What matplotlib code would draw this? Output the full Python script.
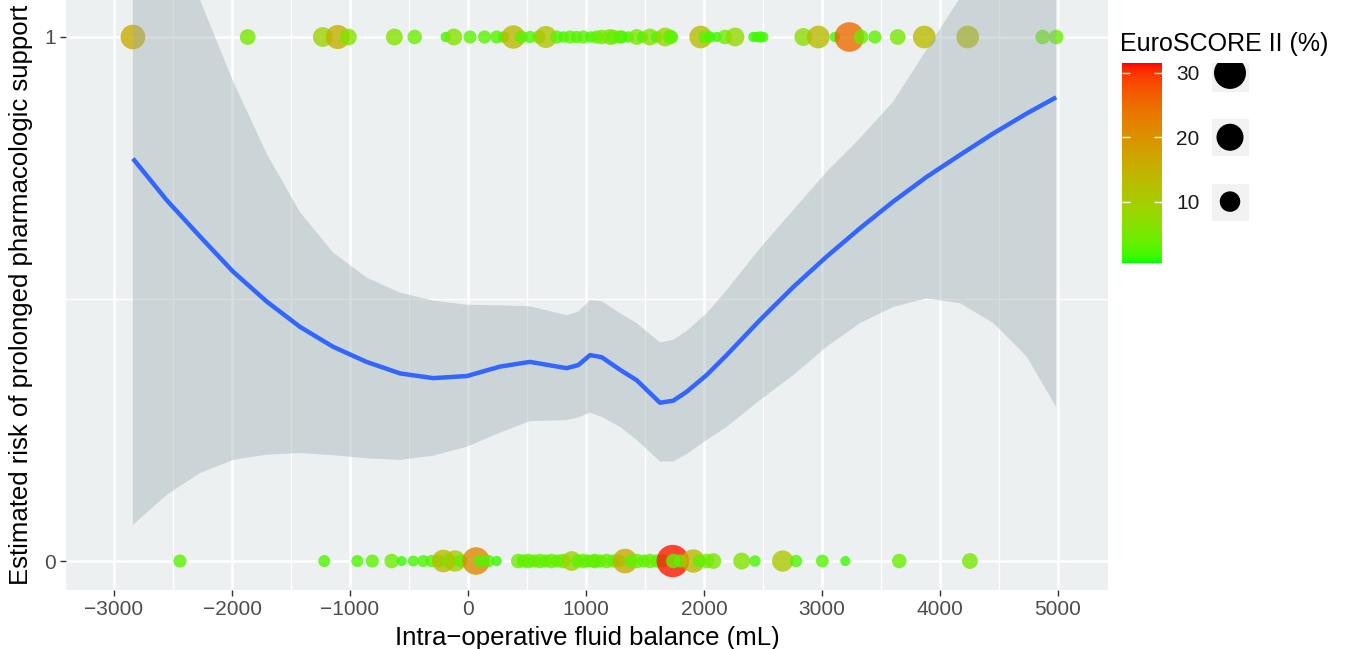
import numpy as np
import matplotlib
matplotlib.use("Agg")
import matplotlib.pyplot as plt
from matplotlib.colors import ListedColormap, Normalize
from matplotlib.cm import ScalarMappable

plt.rcParams['font.family'] = ['Liberation Sans', 'DejaVu Sans']

# smoothed risk curve and its confidence band
fit_x = [-2840, -2555, -2270, -1990, -1705, -1425, -1145, -860, -575, -295,
         -10, 271, 525, 836, 935, 1034, 1133, 1288, 1430, 1627,
         1740, 1853, 2023, 2192, 2475, 2757, 3040, 3322, 3604, 3887,
         4170, 4452, 4735, 4985]
fit_y = [0.768, 0.689, 0.619, 0.552, 0.495, 0.447, 0.409, 0.380, 0.358, 0.349,
         0.353, 0.371, 0.380, 0.368, 0.374, 0.393, 0.389, 0.365, 0.345, 0.302,
         0.306, 0.323, 0.355, 0.393, 0.460, 0.523, 0.581, 0.635, 0.686, 0.733,
         0.775, 0.816, 0.854, 0.885]
band_lo = [0.069, 0.126, 0.168, 0.193, 0.203, 0.206, 0.202, 0.196, 0.193, 0.201,
           0.218, 0.245, 0.267, 0.269, 0.274, 0.283, 0.275, 0.256, 0.231, 0.190,
           0.190, 0.204, 0.231, 0.256, 0.307, 0.355, 0.409, 0.454, 0.485, 0.501,
           0.492, 0.454, 0.390, 0.294]
band_hi = [1.55, 1.30, 1.07, 0.915, 0.777, 0.666, 0.589, 0.541, 0.512, 0.497,
           0.489, 0.488, 0.486, 0.469, 0.476, 0.498, 0.496, 0.473, 0.454, 0.417,
           0.422, 0.439, 0.473, 0.517, 0.597, 0.670, 0.743, 0.807, 0.877, 0.976,
           1.075, 1.16, 1.25, 1.33]

# patients with prolonged support (outcome = 1)
yes_x = [-2840, -1867, -1231, -1104, -1014, -624, -452, -189, -120, 17,
         140, 243, 300, 384, 450, 525, 600, 660, 752, 810,
         864, 920, 977, 1040, 1090, 1133, 1203, 1232, 1288, 1303,
         1360, 1430, 1480, 1542, 1600, 1670, 1712, 1726, 1972, 2008,
         2050, 2108, 2178, 2263, 2418, 2447, 2475, 2503, 2842, 2969,
         3110, 3232, 3331, 3449, 3642, 3867, 4235, 4870, 4985]
yes_score = [16, 5, 9, 15, 6, 6, 4, 1.5, 6, 3,
             3, 3, 2, 14, 3, 2.5, 3, 12, 3, 2,
             3, 2.5, 3, 2, 3, 4, 5, 4, 3, 3,
             2, 5, 2, 6, 2, 8, 4, 3, 13, 3,
             2, 1.5, 4, 8, 1.5, 1.5, 2, 1.5, 7, 13,
             1.5, 25, 4, 3, 5, 13, 13, 4, 4]

# patients without prolonged support (outcome = 0)
no_x = [-2441, -1218, -938, -811, -647, -562, -464, -379, -308, -250,
        -209, -160, -110, -60, 68, 102, 172, 243, 426, 470,
        511, 560, 610, 660, 709, 760, 808, 879, 930, 977,
        1020, 1062, 1076, 1120, 1175, 1230, 1280, 1331, 1380, 1430,
        1490, 1542, 1600, 1650, 1735, 1740, 1800, 1909, 1960, 2023,
        2079, 2319, 2432, 2667, 2780, 3003, 3198, 3655, 4254]
no_score = [3, 2.3, 2.3, 3, 4, 1.4, 1.8, 2.3, 2.5, 3,
            13, 4, 11, 3, 21, 2.5, 2.5, 1.5, 4, 3,
            4, 3, 4, 3, 4, 3, 4, 9, 3, 4,
            3, 3, 4, 3, 4, 3, 3, 16, 3, 4,
            3, 4, 3, 3, 31, 4, 3, 14, 3, 4,
            5, 6, 2, 11, 2.5, 2.8, 1.4, 4, 5]

size_breaks = [10, 20, 30]
score_min, score_max = 0.5, 31.5


# green -> red ramp interpolated in Lab space (like ggplot's gradient)
def to_lab(rgb):
    c = np.array(rgb, float)
    c = np.where(c <= 0.04045, c / 12.92, ((c + 0.055) / 1.055) ** 2.4)
    m = np.array([[0.4124, 0.3576, 0.1805], [0.2126, 0.7152, 0.0722], [0.0193, 0.1192, 0.9505]])
    xyz = m @ c / np.array([0.95047, 1.0, 1.08883])
    f = np.where(xyz > (6 / 29) ** 3, np.cbrt(xyz), xyz / (3 * (6 / 29) ** 2) + 4 / 29)
    return np.array([116 * f[1] - 16, 500 * (f[0] - f[1]), 200 * (f[1] - f[2])])


def from_lab(lab):
    fy = (lab[0] + 16) / 116
    f = np.array([fy + lab[1] / 500, fy, fy - lab[2] / 200])
    xyz = np.where(f > 6 / 29, f ** 3, 3 * (6 / 29) ** 2 * (f - 4 / 29)) * np.array([0.95047, 1.0, 1.08883])
    m = np.array([[3.2406, -1.5372, -0.4986], [-0.9689, 1.8758, 0.0415], [0.0557, -0.2040, 1.0570]])
    c = m @ xyz
    c = np.where(c <= 0.0031308, 12.92 * c, 1.055 * np.clip(c, 0, None) ** (1 / 2.4) - 0.055)
    return np.clip(c, 0, 1)


lo, hi = to_lab([0, 1, 0]), to_lab([1, 0, 0])
cmap = ListedColormap([from_lab(lo + (hi - lo) * t) for t in np.linspace(0, 1, 256)])
norm = Normalize(score_min, score_max)


def marker_size(v):
    # area scale, diameter 1..6 units; ~5.44 px per unit at this size
    v = np.asarray(v, float)
    d_px = 5.44 * (1 + 5 * np.sqrt((v - score_min) / (score_max - score_min)))
    return (d_px * 0.72) ** 2


fig = plt.figure(figsize=(13.48, 6.49), dpi=100)
ax = fig.add_axes([66 / 1348, 59 / 649, 1042 / 1348, 590 / 649])
ax.set_facecolor('#EDF0F1')

ax.scatter(yes_x, np.ones(len(yes_x)), s=marker_size(yes_score), c=yes_score,
           cmap=cmap, norm=norm, alpha=0.8, linewidths=0, zorder=2)
ax.scatter(no_x, np.zeros(len(no_x)), s=marker_size(no_score), c=no_score,
           cmap=cmap, norm=norm, alpha=0.8, linewidths=0, zorder=2)
ax.fill_between(fit_x, band_lo, band_hi, color='#9AABAF', alpha=0.4, lw=0, zorder=3)
ax.plot(fit_x, fit_y, color='#3366FF', lw=3.2, zorder=4, solid_capstyle='butt')

ax.set_xlim(-3407, 5424)
ax.set_ylim(-0.0553, 1.0706)
ax.set_xticks(range(-3000, 5001, 1000))
ax.set_xticks(range(-2500, 4501, 1000), minor=True)
ax.set_yticks([0, 1])
ax.set_yticks([0.5], minor=True)
ax.grid(which='major', color='white', lw=1.8, zorder=0)
ax.grid(which='minor', color='white', lw=0.9, zorder=0)
ax.set_axisbelow(True)
for sp in ax.spines.values():
    sp.set_visible(False)
ax.tick_params(which='major', length=4, width=1, color='#333333', labelcolor='#4D4D4D', labelsize=15)
ax.tick_params(which='minor', length=0)
ax.set_xlabel('Intra\u2212operative fluid balance (mL)', fontsize=18.5, labelpad=5)
ax.set_ylabel('Estimated risk of prolonged pharmacologic support', fontsize=18.5, labelpad=8)

# colour bar
cax = fig.add_axes([1122 / 1348, (649 - 262.7) / 649, 40 / 1348, 199.4 / 649])
cb = fig.colorbar(ScalarMappable(norm=norm, cmap=cmap), cax=cax, ticks=size_breaks)
cb.outline.set_visible(False)
cax.tick_params(direction='in', color='white', length=6, width=1, left=True, right=True,
                labelsize=15, labelcolor='#1A1A1A', pad=10)
fig.text(1120 / 1348, 1 - 44 / 649, 'EuroSCORE II (%)', fontsize=18, va='center', ha='left')

# size legend
sax = fig.add_axes([1205 / 1348, (649 - 262.7) / 649, 50 / 1348, 199.4 / 649])
sax.set_xlim(-1, 1)
sax.set_ylim(score_min, score_max)
sax.axis('off')
sax.scatter(np.zeros(3), size_breaks, marker='s', s=(37 * 0.72) ** 2, color='#F2F2F2', lw=0)
sax.scatter(np.zeros(3), size_breaks, s=marker_size(size_breaks), color='black', lw=0)

fig.savefig('out.png', dpi=100)
